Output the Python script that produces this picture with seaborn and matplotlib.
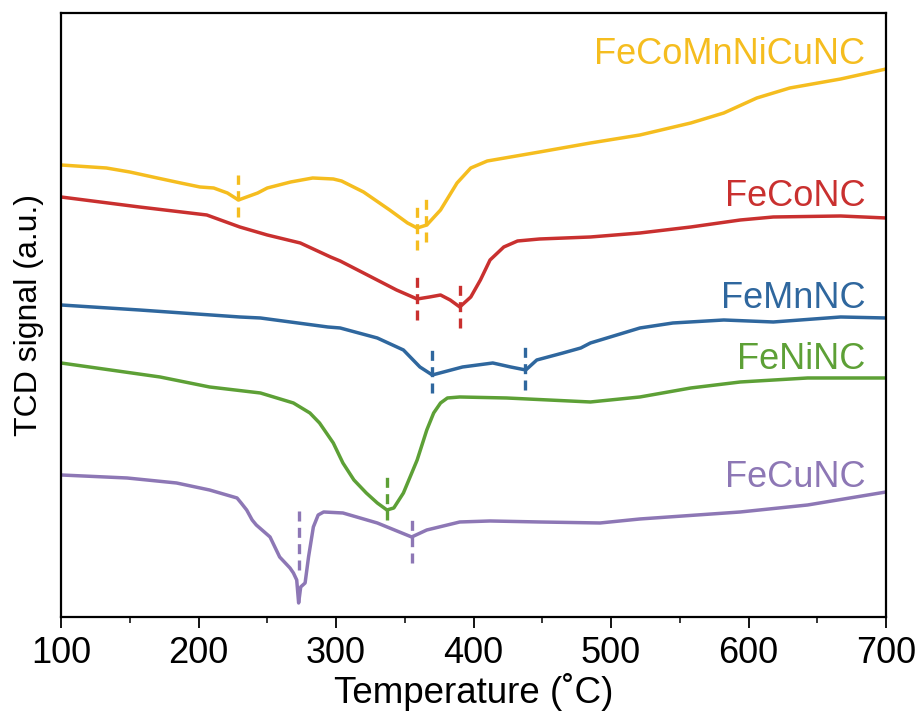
import numpy as np
import pandas as pd
import matplotlib
matplotlib.use("Agg")
import matplotlib.pyplot as plt
from matplotlib.ticker import MultipleLocator
import seaborn as sns

# ---- TPR profiles (temperature in degC, TCD signal in a.u., offset per sample) ----
feco_mn_ni_cu_T = [100, 133, 150, 170, 187, 201, 211, 221, 229, 235, 243, 250, 267, 283, 298,
                   304, 320, 339, 352, 359, 366, 376, 388, 398, 410, 448, 485, 521, 558, 582,
                   606, 630, 667, 700]
feco_mn_ni_cu_S = [4.52, 4.49, 4.45, 4.39, 4.34, 4.30, 4.29, 4.24, 4.17, 4.20, 4.24, 4.29, 4.35,
                   4.39, 4.38, 4.36, 4.25, 4.07, 3.94, 3.89, 3.92, 4.07, 4.34, 4.49, 4.56, 4.65,
                   4.74, 4.82, 4.94, 5.04, 5.19, 5.29, 5.38, 5.48]

feco_T = [100, 157, 206, 230, 250, 274, 296, 303, 320, 344, 359, 368, 376, 383, 390, 398, 405,
          412, 422, 432, 448, 485, 521, 558, 594, 618, 667, 700]
feco_S = [4.20, 4.10, 4.02, 3.90, 3.82, 3.74, 3.60, 3.56, 3.44, 3.27, 3.18, 3.20, 3.22, 3.17,
          3.10, 3.20, 3.37, 3.57, 3.70, 3.76, 3.78, 3.80, 3.84, 3.90, 3.97, 4.00, 4.01, 3.99]

femn_T = [100, 157, 230, 245, 294, 303, 330, 349, 361, 370, 392, 414, 427, 438, 446, 465, 478,
          485, 521, 545, 582, 618, 667, 700]
femn_S = [3.12, 3.07, 3.00, 2.99, 2.90, 2.89, 2.79, 2.67, 2.50, 2.42, 2.50, 2.54, 2.50, 2.47,
          2.57, 2.64, 2.69, 2.74, 2.89, 2.94, 2.97, 2.95, 3.00, 2.99]

feni_T = [100, 172, 208, 245, 269, 281, 288, 298, 305, 313, 322, 330, 337, 342, 349, 359, 366,
          371, 376, 381, 390, 424, 485, 521, 558, 594, 643, 700]
feni_S = [2.54, 2.40, 2.30, 2.24, 2.14, 2.04, 1.94, 1.74, 1.54, 1.37, 1.24, 1.14, 1.07, 1.09,
          1.24, 1.57, 1.87, 2.04, 2.14, 2.19, 2.20, 2.19, 2.15, 2.20, 2.29, 2.35, 2.39, 2.39]

fecu_T = [100, 148, 184, 208, 228, 231, 235, 239, 242, 252, 259, 266.5, 269, 271.4, 272.8,
          274.3, 277.5, 280, 283.5, 287, 291, 305, 330, 355, 366, 390, 412, 448, 492, 521,
          594, 643, 700]
fecu_S = [1.42, 1.39, 1.34, 1.27, 1.19, 1.14, 1.07, 0.97, 0.92, 0.80, 0.60, 0.49, 0.44, 0.37,
          0.14, 0.30, 0.34, 0.60, 0.90, 1.02, 1.05, 1.04, 0.94, 0.80, 0.87, 0.95, 0.96, 0.95,
          0.94, 0.98, 1.05, 1.12, 1.25]

# reduction-peak markers: temperature, lower and upper end of the dashed tick
feco_mn_ni_cu_peaks = [(229, 4.00, 4.42), (359, 3.67, 4.12), (365.5, 3.75, 4.20)]
feco_peaks = [(359, 2.97, 3.44), (390, 2.89, 3.34)]
femn_peaks = [(370, 2.24, 2.67), (437.5, 2.27, 2.72)]
feni_peaks = [(337, 0.97, 1.40)]
fecu_peaks = [(273, 0.47, 1.10), (355, 0.54, 0.97)]

names = ["FeCoMnNiCuNC", "FeCoNC", "FeMnNC", "FeNiNC", "FeCuNC"]
colors = ["#F5BD1F", "#C9302F", "#2F679E", "#5DA036", "#8D77B5"]
label_y = [5.62, 4.20, 3.185, 2.57, 1.39]

series = [
    (feco_mn_ni_cu_T, feco_mn_ni_cu_S, feco_mn_ni_cu_peaks),
    (feco_T, feco_S, feco_peaks),
    (femn_T, femn_S, femn_peaks),
    (feni_T, feni_S, feni_peaks),
    (fecu_T, fecu_S, fecu_peaks),
]

frames = []
for name, (t, s, _) in zip(names, series):
    frames.append(pd.DataFrame({"Temperature": t, "Signal": s, "Sample": name}))
df = pd.concat(frames, ignore_index=True)

sns.set_theme(style="white")
plt.rcParams["font.family"] = ["Liberation Sans", "DejaVu Sans"]

fig = plt.figure(figsize=(9.22, 7.18), dpi=100)
ax = fig.add_axes([0.0662, 0.1407, 0.8948, 0.8412])

sns.lineplot(data=df, x="Temperature", y="Signal", hue="Sample", hue_order=names,
             palette=colors, linewidth=2.5, estimator=None, sort=False, legend=False, ax=ax)

for color, (_, _, peaks) in zip(colors, series):
    for t, lo, hi in peaks:
        ax.plot([t, t], [lo, hi], color=color, linewidth=2.4, linestyle=(0, (3.0, 1.9)),
                solid_capstyle="butt", dash_capstyle="butt")

for name, color, y in zip(names, colors, label_y):
    ax.text(685, y, name, color=color, fontsize=26, ha="right", va="center")

ax.set_xlim(100, 700)
ax.set_ylim(0, 6.04)
ax.xaxis.set_major_locator(MultipleLocator(100))
ax.xaxis.set_minor_locator(MultipleLocator(50))
ax.set_yticks([])
ax.tick_params(axis="x", which="major", direction="out", length=8, width=1.3,
               labelsize=26, pad=6, colors="black", bottom=True)
ax.tick_params(axis="x", which="minor", direction="out", length=4, width=1.3, bottom=True)
for sp in ax.spines.values():
    sp.set_visible(True)
    sp.set_color("black")
    sp.set_linewidth(1.6)

ax.set_xlabel("Temperature (˚C)", fontsize=26.5, labelpad=1, color="black")
ax.set_ylabel("TCD signal (a.u.)", fontsize=23, labelpad=12, color="black")

fig.savefig("out.png", dpi=100, facecolor="white")
